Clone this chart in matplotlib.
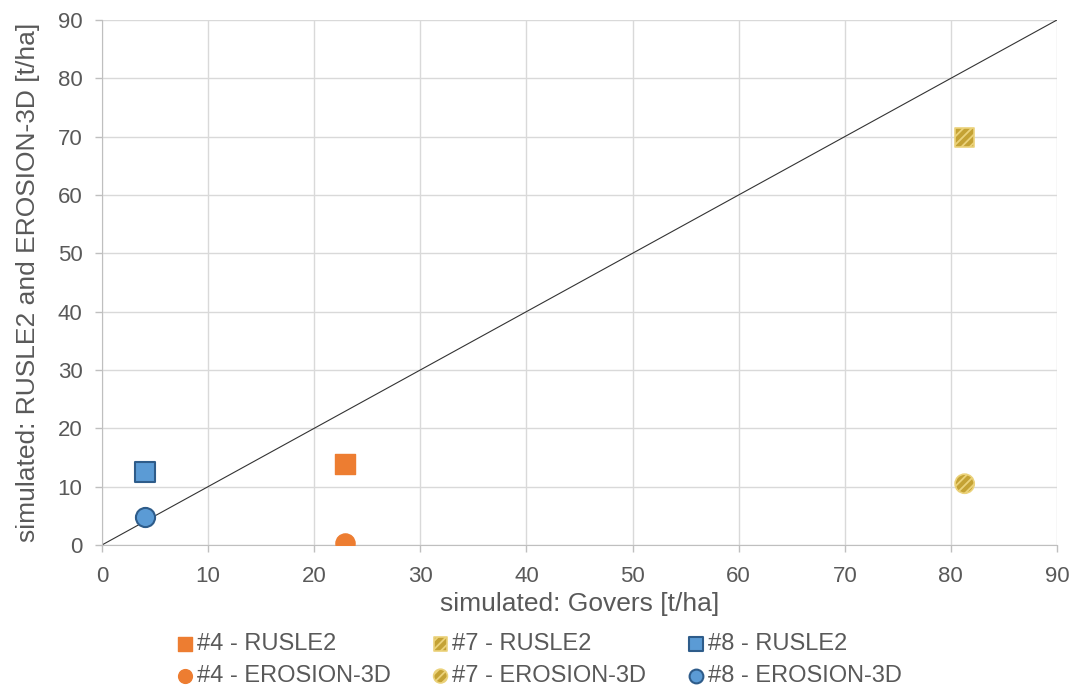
import numpy as np
import matplotlib.pyplot as plt

# Werte
govers_4 = [22.9]
govers_7 = [81.3]
govers_8 = [4.05]
rusle2_4 = [13.9]
rusle2_7 = [69.8]
rusle2_8 = [12.5]
erosion_4 = [0.3]
erosion_7 = [10.5]
erosion_8 = [4.8]

plt.rcParams['font.family'] = ['Liberation Sans', 'DejaVu Sans']
plt.rcParams['hatch.color'] = '#F6E9B0'
plt.rcParams['hatch.linewidth'] = 1.3

grau = '#595959'
orange = '#ED7D31'
gold = '#C4A234'
blau = '#5B9BD5'
blau_rand = '#2E5C8A'

fig = plt.figure(figsize=(10.77, 6.96), dpi=100)
ax = fig.add_axes([0.0947, 0.217, 0.8867, 0.7543])

# 1:1 Linie
ax.plot([0, 90], [0, 90], color='#333333', lw=0.8, zorder=2)

ms = 190
h4a = ax.scatter(govers_4, rusle2_4, marker='s', s=ms, color=orange, edgecolor=orange, zorder=3, label='#4 - RUSLE2')
h4b = ax.scatter(govers_4, erosion_4, marker='o', s=ms, color=orange, edgecolor=orange, zorder=3, label='#4 - EROSION-3D')
h7a = ax.scatter(govers_7, rusle2_7, marker='s', s=ms, color=gold, edgecolor='#EBD27A', linewidth=1.2,
                 hatch='////', zorder=3, label='#7 - RUSLE2')
h7b = ax.scatter(govers_7, erosion_7, marker='o', s=ms, color=gold, edgecolor='#EBD27A', linewidth=1.2,
                 hatch='////', zorder=3, label='#7 - EROSION-3D')
h8a = ax.scatter(govers_8, rusle2_8, marker='s', s=ms, color=blau, edgecolor=blau_rand, linewidth=1.5, zorder=3, label='#8 - RUSLE2')
h8b = ax.scatter(govers_8, erosion_8, marker='o', s=ms, color=blau, edgecolor=blau_rand, linewidth=1.5, zorder=3, label='#8 - EROSION-3D')

ax.set_xlim(0, 90)
ax.set_ylim(0, 90)
ax.set_xticks(np.arange(0, 91, 10))
ax.set_yticks(np.arange(0, 91, 10))
ax.grid(True, color='#D9D9D9', lw=1, zorder=0)
ax.set_axisbelow(True)
for s in ['top', 'right']:
    ax.spines[s].set_visible(False)
for s in ['left', 'bottom']:
    ax.spines[s].set_color('#BFBFBF')
ax.tick_params(length=5, width=1, color='#BFBFBF', labelsize=16, labelcolor=grau)
ax.tick_params(axis='x', pad=10)
ax.tick_params(axis='y', pad=9)

ax.set_xlabel('simulated: Govers [t/ha]', fontsize=19, color=grau, labelpad=4)
ax.set_ylabel('simulated: RUSLE2 and EROSION-3D [t/ha]', fontsize=19, color=grau, labelpad=13)

leg = fig.legend(handles=[h4a, h4b, h7a, h7b, h8a, h8b], loc='lower center', bbox_to_anchor=(0.498, -0.018),
                 ncol=3, frameon=False, fontsize=17, handletextpad=-0.1, columnspacing=1.5,
                 labelspacing=0.42, markerscale=0.72, scatterpoints=1, handlelength=1.2)
for t in leg.get_texts():
    t.set_color(grau)

fig.savefig('out.png', dpi=100)
